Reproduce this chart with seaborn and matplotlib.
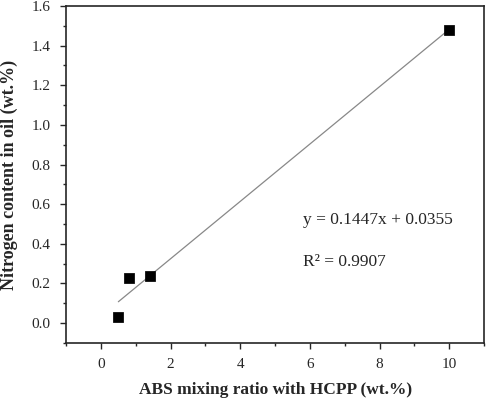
import numpy as np
import pandas as pd
import matplotlib
matplotlib.use("Agg")
import matplotlib.pyplot as plt
import seaborn as sns
from matplotlib.ticker import MultipleLocator

abs_ratio = [0.5, 0.8, 1.4, 10.0]
nitrogen = [0.03, 0.23, 0.24, 1.48]

df = pd.DataFrame({"ratio": abs_ratio, "nitrogen": nitrogen})

sns.set_style("ticks")
plt.rcParams['font.family'] = ['Liberation Serif', 'DejaVu Serif']

fig = plt.figure(figsize=(4.86, 4.03), dpi=100)
ax = fig.add_axes([0.136, 0.149, 0.860, 0.836])

sns.regplot(x="ratio", y="nitrogen", data=df, ax=ax, ci=None, scatter=False,
            line_kws={"color": "#888888", "lw": 0.9})
sns.scatterplot(x="ratio", y="nitrogen", data=df, ax=ax, marker="s", s=45,
                color="black", edgecolor="black", zorder=3)

ax.set_xlim(-1, 11)
ax.set_ylim(-0.1, 1.6)
ax.set_xticks([0, 2, 4, 6, 8, 10])
ax.set_yticks(np.arange(0, 1.61, 0.2))
ax.set_yticklabels([f"{v:.1f}" for v in np.arange(0, 1.61, 0.2)])
ax.xaxis.set_minor_locator(MultipleLocator(1))
ax.yaxis.set_minor_locator(MultipleLocator(0.1))
ax.tick_params(which="major", direction="out", length=4, width=1, labelsize=11, pad=7)
ax.tick_params(which="minor", direction="out", length=2.5, width=1)
for sp in ax.spines.values():
    sp.set_visible(True)
    sp.set_linewidth(1.2)

ax.set_xlabel("ABS mixing ratio with HCPP (wt.%)", fontsize=12.5, fontweight="bold", labelpad=8)
ax.set_ylabel("Nitrogen content in oil (wt.%)", fontsize=13, fontweight="bold", labelpad=10)

ax.text(5.8, 0.52, "y = 0.1447x + 0.0355", fontsize=12.5, va="center")
ax.text(5.8, 0.31, "R² = 0.9907", fontsize=12.5, va="center")

fig.savefig("out.png", dpi=100)
